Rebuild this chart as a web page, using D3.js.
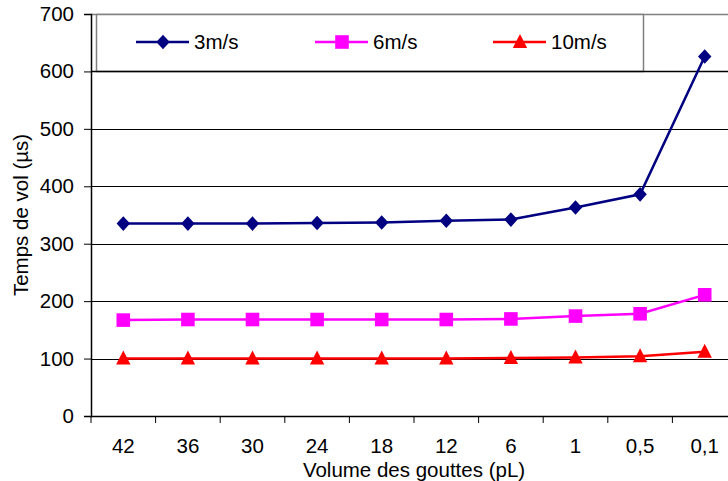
<!DOCTYPE html>
<html>
<head>
<meta charset="utf-8">
<script src="https://cdn.jsdelivr.net/npm/d3@7"></script>
<style>
  html, body { margin: 0; padding: 0; background: #fff; }
  svg { display: block; font-family: Arial, "Liberation Sans", sans-serif; }
</style>
</head>
<body>
<svg id="chart" width="728" height="481"></svg>
<script>
const categories = ["42", "36", "30", "24", "18", "12", "6", "1", "0,5", "0,1"];
const series3 = [335, 335, 335, 336, 337, 340, 342, 363, 386, 626];
const series6 = [167, 168, 168, 168, 168, 168, 169, 174, 178, 211];
const series10 = [100, 100, 100, 100, 100, 100, 101, 102, 104, 112];
const seriesNames = ["3m/s", "6m/s", "10m/s"];
const yTicks = [0, 100, 200, 300, 400, 500, 600, 700];
const xTitle = "Volume des gouttes (pL)";
const yTitle = "Temps de vol (µs)";

const FS = 20.5;
const FONT = "Arial, 'Liberation Sans', sans-serif";
const svg = d3.select("#chart");
const mLeft = 91, mTop = 14, mBottom = 416, plotW = 646;

const x = d3.scaleBand().domain(categories).range([mLeft, mLeft + plotW]).padding(0);
const y = d3.scaleLinear().domain([0, 700]).range([mBottom, mTop]);

// custom marker shapes (half-width, half-height)
const diamond = { draw(ctx, size) { const w = 6.7, h = 7.3; ctx.moveTo(0, -h); ctx.lineTo(w, 0); ctx.lineTo(0, h); ctx.lineTo(-w, 0); ctx.closePath(); } };
const square = { draw(ctx, size) { const s = 6.8; ctx.rect(-s, -s, 2 * s, 2 * s); } };
const triangle = { draw(ctx, size) { const w = 7.2, h = 7; ctx.moveTo(0, -h); ctx.lineTo(w, h); ctx.lineTo(-w, h); ctx.closePath(); } };

// gridlines
svg.append("g").selectAll("line").data(yTicks.filter(d => d > 0 && d < 700)).join("line")
  .attr("x1", mLeft).attr("x2", 728)
  .attr("y1", d => Math.round(y(d)) + 0.5).attr("y2", d => Math.round(y(d)) + 0.5)
  .attr("stroke", "#000").attr("stroke-width", 1);
// top border
svg.append("line").attr("x1", mLeft).attr("x2", 728)
  .attr("y1", mTop + 0.5).attr("y2", mTop + 0.5)
  .attr("stroke", "#808080").attr("stroke-width", 1.5);

// y axis
const yAxis = d3.axisLeft(y).tickValues(yTicks).tickSize(7).tickPadding(10).tickFormat(d3.format("d"));
const gy = svg.append("g").attr("transform", `translate(${mLeft},0)`).call(yAxis);
gy.select(".domain").attr("stroke", "#000").attr("stroke-width", 1.5);
gy.selectAll(".tick line").attr("stroke", "#000");
gy.selectAll("text").attr("font-size", FS).attr("fill", "#000").attr("font-family", FONT);

// x axis
const xAxis = d3.axisBottom(x).tickSize(0).tickPadding(22);
const gx = svg.append("g").attr("transform", `translate(0,${mBottom})`).call(xAxis);
gx.select(".domain").attr("stroke", "#000").attr("stroke-width", 1.5).attr("d", `M${mLeft},0.5H728`);
gx.selectAll("text").attr("font-size", FS).attr("fill", "#000").attr("font-family", FONT);
// category boundary ticks
const bounds = categories.map(c => x(c)).concat([x(categories[categories.length-1]) + x.bandwidth()]);
gx.append("g").selectAll("line").data(bounds).join("line")
  .attr("x1", d => d).attr("x2", d => d).attr("y1", 0).attr("y2", 7)
  .attr("stroke", "#000").attr("stroke-width", 1);

// axis titles
svg.append("text").attr("x", mLeft + plotW / 2).attr("y", 477)
  .attr("text-anchor", "middle").attr("font-size", FS).text(xTitle);
svg.append("text").attr("transform", `translate(28,${(mTop + mBottom) / 2}) rotate(-90)`)
  .attr("text-anchor", "middle").attr("font-size", FS).text(yTitle);

const cx = d => x(d) + x.bandwidth() / 2;
const data = [
  { name: seriesNames[0], values: series3, color: "#000080", shape: diamond },
  { name: seriesNames[1], values: series6, color: "#FF00FF", shape: square },
  { name: seriesNames[2], values: series10, color: "#FF0000", shape: triangle }
];

const line = d3.line().x((d, i) => cx(categories[i])).y(d => y(d));

// legend box
const leg = svg.append("g");
leg.append("rect").attr("x", 96.5).attr("y", 14.5).attr("width", 547).attr("height", 57)
  .attr("fill", "#fff").attr("stroke", "#808080").attr("stroke-width", 1.5);
const legPos = [136, 315, 493];
data.forEach((s, k) => {
  const lx = legPos[k];
  leg.append("line").attr("x1", lx).attr("x2", lx + 53).attr("y1", 42).attr("y2", 42)
    .attr("stroke", s.color).attr("stroke-width", 2.5);
  leg.append("path").attr("d", d3.symbol(s.shape)())
    .attr("transform", `translate(${lx + 27},${k === 2 ? 41 : 42})`).attr("fill", s.color);
  leg.append("text").attr("x", lx + 58).attr("y", 42).attr("dy", "0.35em")
    .attr("font-size", FS).text(s.name);
});
// 600 gridline over legend bottom
svg.append("line").attr("x1", mLeft).attr("x2", 728)
  .attr("y1", Math.round(y(600)) + 0.5).attr("y2", Math.round(y(600)) + 0.5)
  .attr("stroke", "#000").attr("stroke-width", 1.5);

// series
data.forEach(s => {
  svg.append("path").datum(s.values).attr("d", line)
    .attr("fill", "none").attr("stroke", s.color).attr("stroke-width", 2.5);
  svg.append("g").selectAll("path").data(s.values).join("path")
    .attr("d", d3.symbol(s.shape)())
    .attr("transform", (d, i) => `translate(${cx(categories[i])},${y(d) - (s.shape === triangle ? 1 : 0)})`)
    .attr("fill", s.color);
});
</script>
</body>
</html>
